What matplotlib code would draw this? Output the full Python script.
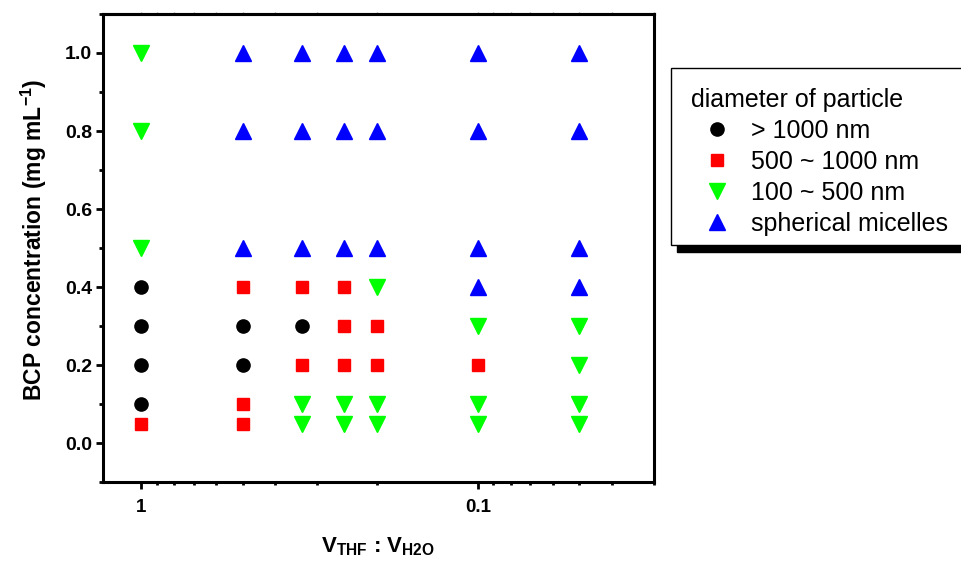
import matplotlib
matplotlib.use("Agg")
import matplotlib.pyplot as plt
from matplotlib.ticker import LogLocator, FixedLocator, MultipleLocator, NullFormatter
from matplotlib.patches import Rectangle

plt.rcParams["font.family"] = ["Liberation Sans", "DejaVu Sans"]
plt.rcParams["mathtext.fontset"] = "custom"
plt.rcParams["mathtext.rm"] = "Liberation Sans"
plt.rcParams["mathtext.bf"] = "Liberation Sans:bold"

# V_THF : V_H2O ratio vs BCP concentration, grouped by particle size
big_x = [1, 1, 1, 1, 0.5, 0.5, 1 / 3]
big_y = [0.4, 0.3, 0.2, 0.1, 0.3, 0.2, 0.3]

mid_x = [1, 0.5, 0.5, 0.5, 1 / 3, 1 / 3, 0.25, 0.25, 0.25, 0.2, 0.2, 0.1]
mid_y = [0.05, 0.4, 0.1, 0.05, 0.4, 0.2, 0.4, 0.3, 0.2, 0.3, 0.2, 0.2]

small_x = [1, 1, 1, 1 / 3, 1 / 3, 0.25, 0.25, 0.2, 0.2, 0.2,
           0.1, 0.1, 0.1, 0.05, 0.05, 0.05, 0.05]
small_y = [1.0, 0.8, 0.5, 0.1, 0.05, 0.1, 0.05, 0.4, 0.1, 0.05,
           0.3, 0.1, 0.05, 0.3, 0.2, 0.1, 0.05]

mic_x = [0.5, 0.5, 0.5, 1 / 3, 1 / 3, 1 / 3, 0.25, 0.25, 0.25, 0.2, 0.2, 0.2,
         0.1, 0.1, 0.1, 0.1, 0.05, 0.05, 0.05, 0.05]
mic_y = [1.0, 0.8, 0.5, 1.0, 0.8, 0.5, 1.0, 0.8, 0.5, 1.0, 0.8, 0.5,
         1.0, 0.8, 0.5, 0.4, 1.0, 0.8, 0.5, 0.4]

labels = ["> 1000 nm", "500 ~ 1000 nm", "100 ~ 500 nm", "spherical micelles"]

fig = plt.figure(figsize=(9.62, 5.66), dpi=100)
ax = fig.add_axes([103 / 962, 1 - 482 / 566, (654 - 103) / 962, (482 - 14) / 566])

ax.plot(big_x, big_y, "o", color="black", ms=9.5, ls="none", label=labels[0])
ax.plot(mid_x, mid_y, "s", color="#ff0000", ms=9, ls="none", label=labels[1])
ax.plot(small_x, small_y, "v", color="#00ff00", ms=12, ls="none", label=labels[2])
ax.plot(mic_x, mic_y, "^", color="#0000ff", ms=12, ls="none", label=labels[3])

ax.set_xscale("log")
ax.set_xlim(1.3, 0.03)
ax.set_ylim(-0.1, 1.1)

ax.xaxis.set_major_locator(FixedLocator([1, 0.1]))
ax.set_xticklabels(["1", "0.1"])
ax.xaxis.set_minor_locator(LogLocator(base=10, subs=range(2, 10)))
ax.xaxis.set_minor_formatter(NullFormatter())
ax.yaxis.set_major_locator(MultipleLocator(0.2))
ax.yaxis.set_minor_locator(MultipleLocator(0.1))
ax.yaxis.set_major_formatter(plt.FormatStrFormatter("%.1f"))

for s in ax.spines.values():
    s.set_linewidth(2.2)

ax.tick_params(axis="x", which="major", direction="out", length=5, width=2,
               pad=7, labelsize=13.5)
ax.tick_params(axis="x", which="minor", direction="out", length=2.5, width=2)
ax.tick_params(axis="y", which="major", direction="out", length=5, width=2,
               pad=3, labelsize=14)
ax.tick_params(axis="y", which="minor", direction="out", length=3, width=2)
for t in ax.get_xticklabels() + ax.get_yticklabels():
    t.set_fontweight("bold")

top = ax.secondary_xaxis("top")
top.xaxis.set_major_locator(FixedLocator([1, 0.1]))
top.xaxis.set_minor_locator(LogLocator(base=10, subs=range(2, 10)))
top.xaxis.set_major_formatter(NullFormatter())
top.xaxis.set_minor_formatter(NullFormatter())
top.tick_params(which="both", direction="out", length=1.5, width=1, color="0.6")
top.spines["top"].set_linewidth(2.2)

ax.set_xlabel(r"$\mathbf{V}_{\mathbf{THF}}$ : $\mathbf{V}_{\mathbf{H2O}}$",
              fontsize=16, fontweight="bold", labelpad=14)
ax.set_ylabel(r"BCP concentration (mg mL$^{\mathbf{-1}}$)",
              fontsize=16.5, fontweight="bold", labelpad=11)
ax.yaxis.label.set_y(0.517)

leg = fig.legend(loc="upper left", bbox_to_anchor=(671 / 962, 1 - 68 / 566),
                 bbox_transform=fig.transFigure, borderaxespad=0,
                 title="diameter of particle", alignment="left",
                 fontsize=18, title_fontsize=18, frameon=True, fancybox=False,
                 edgecolor="black", framealpha=1, borderpad=0.8,
                 handlelength=2.1, handletextpad=0.32, labelspacing=0.28)
leg.get_frame().set_visible(False)
leg.set_zorder(5)

# own frame (tighter at the bottom) plus a thick offset shadow
fig.canvas.draw()
bb = leg.get_window_extent().transformed(fig.transFigure.inverted())
y0 = 1 - 245 / 566
h = bb.y1 - y0
dx, dy = 6 / 962, 7 / 566
fig.add_artist(Rectangle((bb.x0 + dx, y0 - dy), bb.width, h,
                         transform=fig.transFigure, color="black", zorder=4))
fig.add_artist(Rectangle((bb.x0, y0), bb.width, h, transform=fig.transFigure,
                         facecolor="white", edgecolor="black", lw=1, zorder=4.5))

fig.savefig("out.png", dpi=100)
